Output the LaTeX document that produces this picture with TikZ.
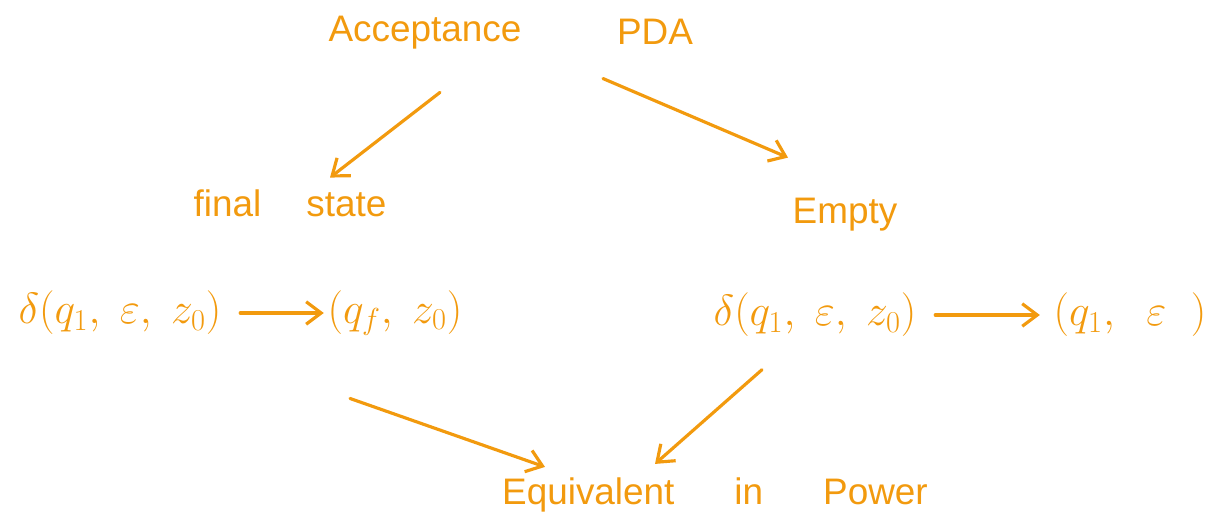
\documentclass[tikz,border=0pt]{standalone}
\usepackage{amsmath,amssymb}
\usepackage{fontspec}
\setsansfont{Liberation Sans}
\usepackage{xcolor}
\usepackage{tikz}
\usetikzlibrary{arrows.meta, positioning}
\definecolor{pen}{HTML}{F29A0E}

\begin{document}
\begin{tikzpicture}[
    % Texto manuscrito em laranja
    txt/.style={text=pen, font=\sffamily\fontsize{21}{25}\selectfont, inner sep=2pt},
    % Formulas um pouco maiores
    form/.style={text=pen, font=\fontsize{26}{30}\selectfont, inner sep=2pt},
    arrow/.style={-{Straight Barb[length=3mm, width=4.5mm]}, draw=pen, line width=1.8pt, line cap=round}
]
\useasboundingbox (0,0) rectangle (24.4,10.52);

% 1. Titulo
\node[txt] (acc) at (8.5, 9.86) {Acceptance};
\node[txt] (pda) at (13.1, 9.88) {PDA};

% 2. Os dois modos de aceitacao
\node[txt] (final) at (5.8, 6.46) {final\hspace{0.9cm}state};
\node[txt] (empty) at (16.9, 6.22) {Empty};

% 3. Transicoes
\node[form] (d1) at (2.4, 4.26) {$\delta(q_1,\;\varepsilon,\;z_0)$};
\node[form] (qf) at (7.9, 4.26) {$(q_f,\;z_0)$};
\node[form] (d2) at (16.3, 4.22) {$\delta(q_1,\;\varepsilon,\;z_0)$};
\node[form] (q1e) at (22.6, 4.22) {$(q_1,\;\;\varepsilon\;\;)$};

% 4. Conclusao
\node[txt] (equiv) at (14.3, 0.62) {Equivalent\hspace{1.2cm}in\hspace{1.2cm}Power};

% 5. Setas
\draw[arrow] ([xshift=0.3cm, yshift=-0.78cm]acc.south) -- ([xshift=0.8cm, yshift=0.16cm]final.north);
\draw[arrow] ([xshift=-1.04cm, yshift=-0.6cm]pda.south) -- ([xshift=-1.14cm, yshift=0.74cm]empty.north);
\draw[arrow, shorten <=0.3cm] (d1.east) -- (qf.west);
\draw[arrow, shorten <=0.3cm, shorten >=0.2cm] (d2.east) -- (q1e.west);
\draw[arrow] ([xshift=-0.9cm, yshift=-1.18cm]qf.south) -- ([xshift=-3.4cm, yshift=0.14cm]equiv.north);
\draw[arrow] ([xshift=-1.06cm, yshift=-0.58cm]d2.south) -- ([xshift=-1.2cm, yshift=0.2cm]equiv.north);

\end{tikzpicture}
\end{document}
